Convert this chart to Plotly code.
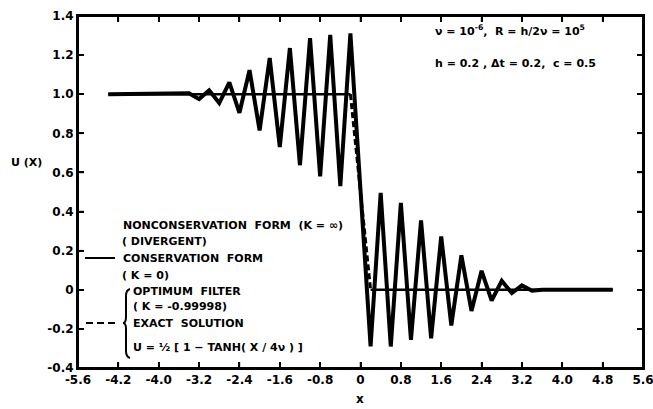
import plotly.graph_objects as go

# ---------------- data ----------------
x_grid = [-5.0, -4.8, -4.6, -4.4, -4.2, -4.0, -3.8, -3.6, -3.4, -3.2,
          -3.0, -2.8, -2.6, -2.4, -2.2, -2.0, -1.8, -1.6, -1.4, -1.2,
          -1.0, -0.8, -0.6, -0.4, -0.2, 0.0, 0.2, 0.4, 0.6, 0.8,
          1.0, 1.2, 1.4, 1.6, 1.8, 2.0, 2.2, 2.4, 2.6, 2.8,
          3.0, 3.2, 3.4, 3.6, 3.8, 4.0, 4.2, 4.4, 4.6, 4.8, 5.0]
u_conservation = [1.0, 1.0, 1.0, 1.0, 1.0, 1.0, 1.0, 1.0, 1.005, 0.975,
                  1.02, 0.955, 1.06, 0.905, 1.123, 0.815, 1.185, 0.73, 1.236, 0.637,
                  1.287, 0.58, 1.303, 0.53, 1.311, 0.51, -0.29, 0.495, -0.29, 0.444,
                  -0.256, 0.355, -0.248, 0.273, -0.183, 0.176, -0.108, 0.097, -0.055, 0.046,
                  -0.017, 0.022, -0.005, 0.0, 0.0, 0.0, 0.0, 0.0, 0.0, 0.0, 0.0]

x_exact = [-5.0, -0.2, 0.0, 0.2, 5.0]
u_exact = [1.0, 1.0, 0.5, 0.0, 0.0]

x_tickvals = [-5.6, -4.8, -4.0, -3.2, -2.4, -1.6, -0.8, 0.0, 0.8, 1.6, 2.4, 3.2, 4.0, 4.8, 5.6]
x_ticktext = ["-5.6", "-4.2", "-4.0", "-3.2", "-2.4", "-1.6", "-0.8", "0", "0.8", "1.6", "2.4", "3.2", "4.0", "4.8", "5.6"]
y_tickvals = [1.4, 1.2, 1.0, 0.8, 0.6, 0.4, 0.2, 0.0, -0.2, -0.4]
y_ticktext = ["1.4", "1.2", "1.0", "0.8", "0.6", "0.4", "0.2", "0", "-0.2", "-0.4"]

# ---------------- layout helpers ----------------
W, H = 653, 409
L, R, T, B = 78, 643, 16, 368
FONT = "DejaVu Sans"
X_RANGE = [-5.6, 5.6]
Y_RANGE = [-0.4, 1.4]


def px(xp):
    return (xp - L) / (R - L)


def py(yp):
    return (B - yp) / (B - T)


fig = go.Figure()

# exact solution / optimum filter: flat parts solid, jump dashed
fig.add_trace(go.Scatter(x=x_exact[:2], y=u_exact[:2], mode="lines",
                         line=dict(color="black", width=2.5), showlegend=False))
fig.add_trace(go.Scatter(x=x_exact[3:], y=u_exact[3:], mode="lines",
                         line=dict(color="black", width=2.5), showlegend=False))
fig.add_trace(go.Scatter(x=x_exact[1:4], y=u_exact[1:4], mode="lines",
                         line=dict(color="black", width=3, dash="6px,3px"), showlegend=False))
# conservation form
fig.add_trace(go.Scatter(x=x_grid, y=u_conservation, mode="lines",
                         line=dict(color="black", width=4), showlegend=False))

axis_common = dict(showline=True, linecolor="black", linewidth=2, mirror="allticks",
                   ticks="inside", ticklen=6, tickwidth=1.5, tickcolor="black",
                   showgrid=False, zeroline=False, automargin=False,
                   ticklabeloverflow="allow",
                   tickfont=dict(family=FONT, size=12, color="black"))

fig.update_layout(
    template="none",
    width=W, height=H,
    margin=dict(l=L, r=W - R, t=T, b=H - B, autoexpand=False),
    paper_bgcolor="white", plot_bgcolor="white",
    xaxis=dict(range=X_RANGE, tickvals=x_tickvals,
               ticktext=["<b>%s</b>" % t for t in x_ticktext], **axis_common),
    yaxis=dict(range=Y_RANGE, tickvals=y_tickvals,
               ticktext=["<b>%s</b>" % t for t in y_ticktext], **axis_common),
    showlegend=False,
)

ann = []


def text(xp, yp, s, size=11, anchor="left"):
    ann.append(dict(x=px(xp), y=py(yp), xref="paper", yref="paper", text="<b>%s</b>" % s,
                    showarrow=False, xanchor=anchor, yanchor="middle",
                    font=dict(family=FONT, size=size, color="black")))


# axis titles
text(26, 162, "U (X)", 11, "center")
text(360, 399, "x", 12, "center")

# top-right parameters
text(433, 30, "ν = 10<sup>-6</sup>,  R = h/2ν = 10<sup>5</sup>", 11)
text(433, 63, "h = 0.2 , Δt = 0.2,  c = 0.5", 11)

# legend
text(121, 225, "NONCONSERVATION  FORM  (K = ∞)", 11)
text(120, 241, "( DIVERGENT)", 11)
text(121, 258, "CONSERVATION  FORM", 11)
text(120, 275, "( K = 0)", 11)
text(131, 291, "OPTIMUM  FILTER", 11)
text(131, 306, "( K = -0.99998)", 11)
text(131, 323, "EXACT  SOLUTION", 11)
text(131, 347, "U = ½ [ 1 − TANH( X / 4ν ) ]", 11)

fig.update_layout(annotations=ann)

frame_line = dict(color="black", width=2)
tick_line = dict(color="black", width=1.5)
tl_x = 6 / (B - T)   # tick length in paper units (vertical ticks)
tl_y = 6 / (R - L)   # tick length in paper units (horizontal ticks)

shapes = [
    # plot frame
    dict(type="rect", xref="paper", yref="paper", x0=0, x1=1, y0=0, y1=1,
         line=frame_line, layer="above"),
    # solid sample
    dict(type="line", xref="paper", yref="paper", x0=px(85), x1=px(115), y0=py(258), y1=py(258),
         line=dict(color="black", width=2)),
    # dashed sample
    dict(type="line", xref="paper", yref="paper", x0=px(86), x1=px(119), y0=py(323), y1=py(323),
         line=dict(color="black", width=2, dash="7px,4px")),
]
# inside ticks on all four sides, at the axis tick values
for v in x_tickvals[1:-1]:
    shapes.append(dict(type="line", xref="x", yref="paper", x0=v, x1=v, y0=0, y1=tl_x,
                       line=tick_line, layer="above"))
    shapes.append(dict(type="line", xref="x", yref="paper", x0=v, x1=v, y0=1, y1=1 - tl_x,
                       line=tick_line, layer="above"))
for v in y_tickvals[1:-1]:
    shapes.append(dict(type="line", xref="paper", yref="y", x0=0, x1=tl_y, y0=v, y1=v,
                       line=tick_line, layer="above"))
    shapes.append(dict(type="line", xref="paper", yref="y", x0=1, x1=1 - tl_y, y0=v, y1=v,
                       line=tick_line, layer="above"))

# brace
bx, by0, bym, by1 = 126, 289, 323, 358
path = (f"M {px(bx+4)},{py(by0)} Q {px(bx)},{py(by0+1)} {px(bx)},{py(by0+7)} "
        f"L {px(bx)},{py(bym-6)} Q {px(bx)},{py(bym)} {px(bx-3)},{py(bym)} "
        f"Q {px(bx)},{py(bym)} {px(bx)},{py(bym+6)} "
        f"L {px(bx)},{py(by1-7)} Q {px(bx)},{py(by1-1)} {px(bx+4)},{py(by1)}")
shapes.append(dict(type="path", xref="paper", yref="paper", path=path,
                   line=dict(color="black", width=2)))
fig.update_layout(shapes=shapes)

fig.write_html("out.html", config={"displayModeBar": False},
               post_script="document.body.style.margin='0';")
